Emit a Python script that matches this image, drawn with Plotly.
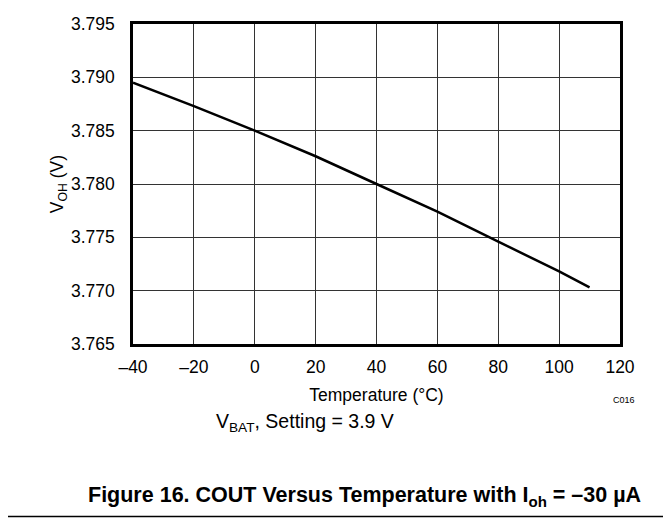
import plotly.graph_objects as go

temperature_c = [-40, -20, 0, 20, 40, 60, 80, 100, 110]
voh_v = [3.7895, 3.7873, 3.7850, 3.7826, 3.7800, 3.7774, 3.7746, 3.7718, 3.7703]

x_ticks = [-40, -20, 0, 20, 40, 60, 80, 100, 120]
x_tick_text = ["\u201340", "\u201320", "0", "20", "40", "60", "80", "100", "120"]
y_ticks = [3.765, 3.770, 3.775, 3.780, 3.785, 3.790, 3.795]
y_tick_text = ["3.765", "3.770", "3.775", "3.780", "3.785", "3.790", "3.795"]

FONT = "Liberation Sans, Arial, sans-serif"

# page has an 8px body margin; plot area target (page px): x 133-620, y 14-344
PX0, PX1, PY0, PY1 = 133, 620, 14, 344
PW, PH = PX1 - PX0, PY1 - PY0


def px(x):
    return (x - PX0) / PW


def py(y):
    return (PY1 - y) / PH


fig = go.Figure()
fig.add_trace(go.Scatter(
    x=temperature_c, y=voh_v, mode="lines",
    line=dict(color="black", width=2.5),
    showlegend=False, hoverinfo="skip",
))

fig.update_layout(
    width=663, height=519,
    margin=dict(l=PX0 - 8, r=663 - (PX1 - 8), t=PY0 - 8, b=519 - (PY1 - 8), pad=0),
    paper_bgcolor="white", plot_bgcolor="white",
    font=dict(family=FONT, color="black", size=17.5),
    xaxis=dict(
        range=[-40, 120], tickvals=x_ticks, ticktext=x_tick_text,
        showgrid=True, gridcolor="#333", gridwidth=1,
        showline=True, linecolor="black", linewidth=2.5, mirror=True,
        ticks="", zeroline=False, ticklabelstandoff=5, ticklabeloverflow="allow",
        title=dict(text="Temperature (\u00b0C)", font=dict(size=17.5), standoff=13),
    ),
    yaxis=dict(
        range=[3.765, 3.795], tickvals=y_ticks, ticktext=y_tick_text,
        showgrid=True, gridcolor="#333", gridwidth=1,
        showline=True, linecolor="black", linewidth=2.5, mirror=True,
        ticks="", zeroline=False, ticklabelstandoff=12, ticklabeloverflow="allow",
        title=dict(text="V<sub>OH</sub> (V)", font=dict(size=17.5), standoff=3),
    ),
)

fig.add_annotation(text="C016", xref="paper", yref="paper", x=px(623.5), y=py(402),
                   xanchor="center", yanchor="middle", showarrow=False,
                   font=dict(size=9, family=FONT))
fig.add_annotation(text="V<sub>BAT</sub>, Setting = 3.9 V", xref="paper", yref="paper",
                   x=px(396), y=py(425),
                   xanchor="right", yanchor="middle", showarrow=False,
                   font=dict(size=19.5, family=FONT))
fig.add_annotation(text="<b>Figure 16. COUT Versus Temperature with I<sub>oh</sub> = \u201330 \u00b5A</b>",
                   xref="paper", yref="paper",
                   x=px(643), y=py(501),
                   xanchor="right", yanchor="middle", showarrow=False,
                   font=dict(size=21.5, family=FONT))
fig.add_shape(type="line", xref="paper", yref="paper",
              x0=px(8), x1=px(671),
              y0=py(522), y1=py(522),
              line=dict(color="black", width=1.5))

fig.write_html("out.html")
